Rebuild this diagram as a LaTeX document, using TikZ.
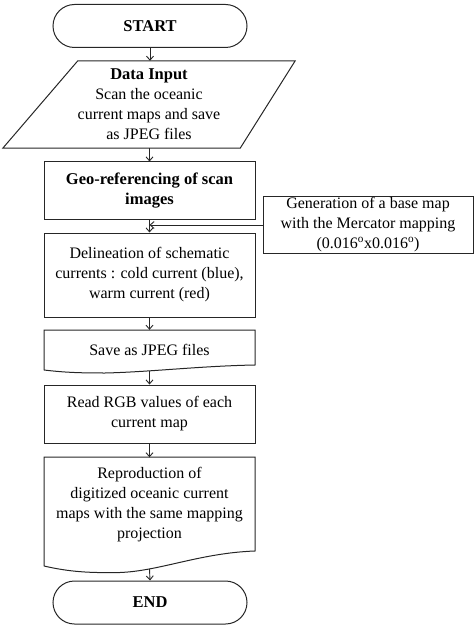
\documentclass[tikz,border=0pt]{standalone}
\usepackage{fontspec}
\setmainfont{Liberation Serif}
\usetikzlibrary{shapes.misc,arrows.meta}
\begin{document}
\begin{tikzpicture}[x=1pt,y=-1pt,
  ln/.style={line width=1pt, draw=black!85},
  txt/.style={align=center, inner sep=0pt, font=\fontsize{16}{20}\selectfont},
  bold/.style={align=center, inner sep=0pt, font=\fontsize{16.5}{20}\selectfont\bfseries},
  boxnode/.style={txt, ln, minimum width=211pt},
  term/.style={bold, ln, rounded rectangle, minimum width=194pt, minimum height=43pt},
  arr/.style={-{Straight Barb[length=4pt,width=7pt]}, line width=0.9pt, draw=black!85}
]
\useasboundingbox (0,0) rectangle (474,628);

% START
\node[term] (start) at (150,26) {START};

% Data input (parallelogram)
\node[txt, minimum width=292pt, minimum height=87pt] (inp) at (149,104.5)
  {\textbf{\fontsize{16.5}{20}\selectfont Data Input}\\Scan the oceanic\\current maps and save\\as JPEG files};
\draw[ln] ([xshift=75pt]inp.north west) -- (inp.north east) -- ([xshift=-55pt]inp.south east) -- (inp.south west) -- cycle;

% Geo-referencing
\node[boxnode, bold, minimum height=57pt] (geo) at (149.5,190.5) {Geo-referencing of scan\\images};

% Side box
\node[boxnode, minimum width=210pt, minimum height=56pt] (side) at (368,225)
  {Generation of a base map\\with the Mercator mapping\\(0.016\textsuperscript{o}x0.016\textsuperscript{o})};

% Delineation
\node[boxnode, minimum height=84pt] (delin) at (149.5,275)
  {Delineation of schematic\\currents : cold current (blue),\\warm current (red)};

% Save as JPEG (document)
\node[txt, minimum width=211pt, minimum height=40pt] (save) at (149.5,350) {Save as JPEG files};
\draw[ln] (44,370) -- (44,330) -- (255,330) -- (255,365)
  .. controls (200,366) and (150,372) .. (105,373)
  .. controls (80,373) and (65,372.5) .. (44,370);
\coordinate (savebot) at (149.5,370.8);

% Read RGB
\node[boxnode, minimum height=58pt] (rgb) at (149.5,414) {Read RGB values of each\\current map};

% Reproduction (document)
\node[txt, minimum width=211pt, minimum height=95pt] (rep) at (149.5,505)
  {Reproduction of\\digitized oceanic current\\maps with the same mapping\\projection};
\draw[ln] (44,566) -- (44,457) -- (255,457) -- (255,551)
  .. controls (200,553) and (160,571) .. (120,572.5)
  .. controls (90,573) and (70,572) .. (44,566);
\coordinate (repbot) at (149.5,569);

% END
\node[term] (end) at (150,602.5) {END};

% connectors
\draw[arr] (start.south) -- (start.south |- inp.north);
\draw[arr] (inp.south -| geo.north) -- (geo.north);
\draw[arr] (geo.south) -- (delin.north);
\draw[arr] (side.west) -- (side.west -| geo.south);
\draw[arr] (delin.south) -- (save.north);
\draw[arr] (savebot) -- (rgb.north);
\draw[arr] (rgb.south) -- (rep.north);
\draw[arr] (repbot) -- (end.north);
\end{tikzpicture}
\end{document}
